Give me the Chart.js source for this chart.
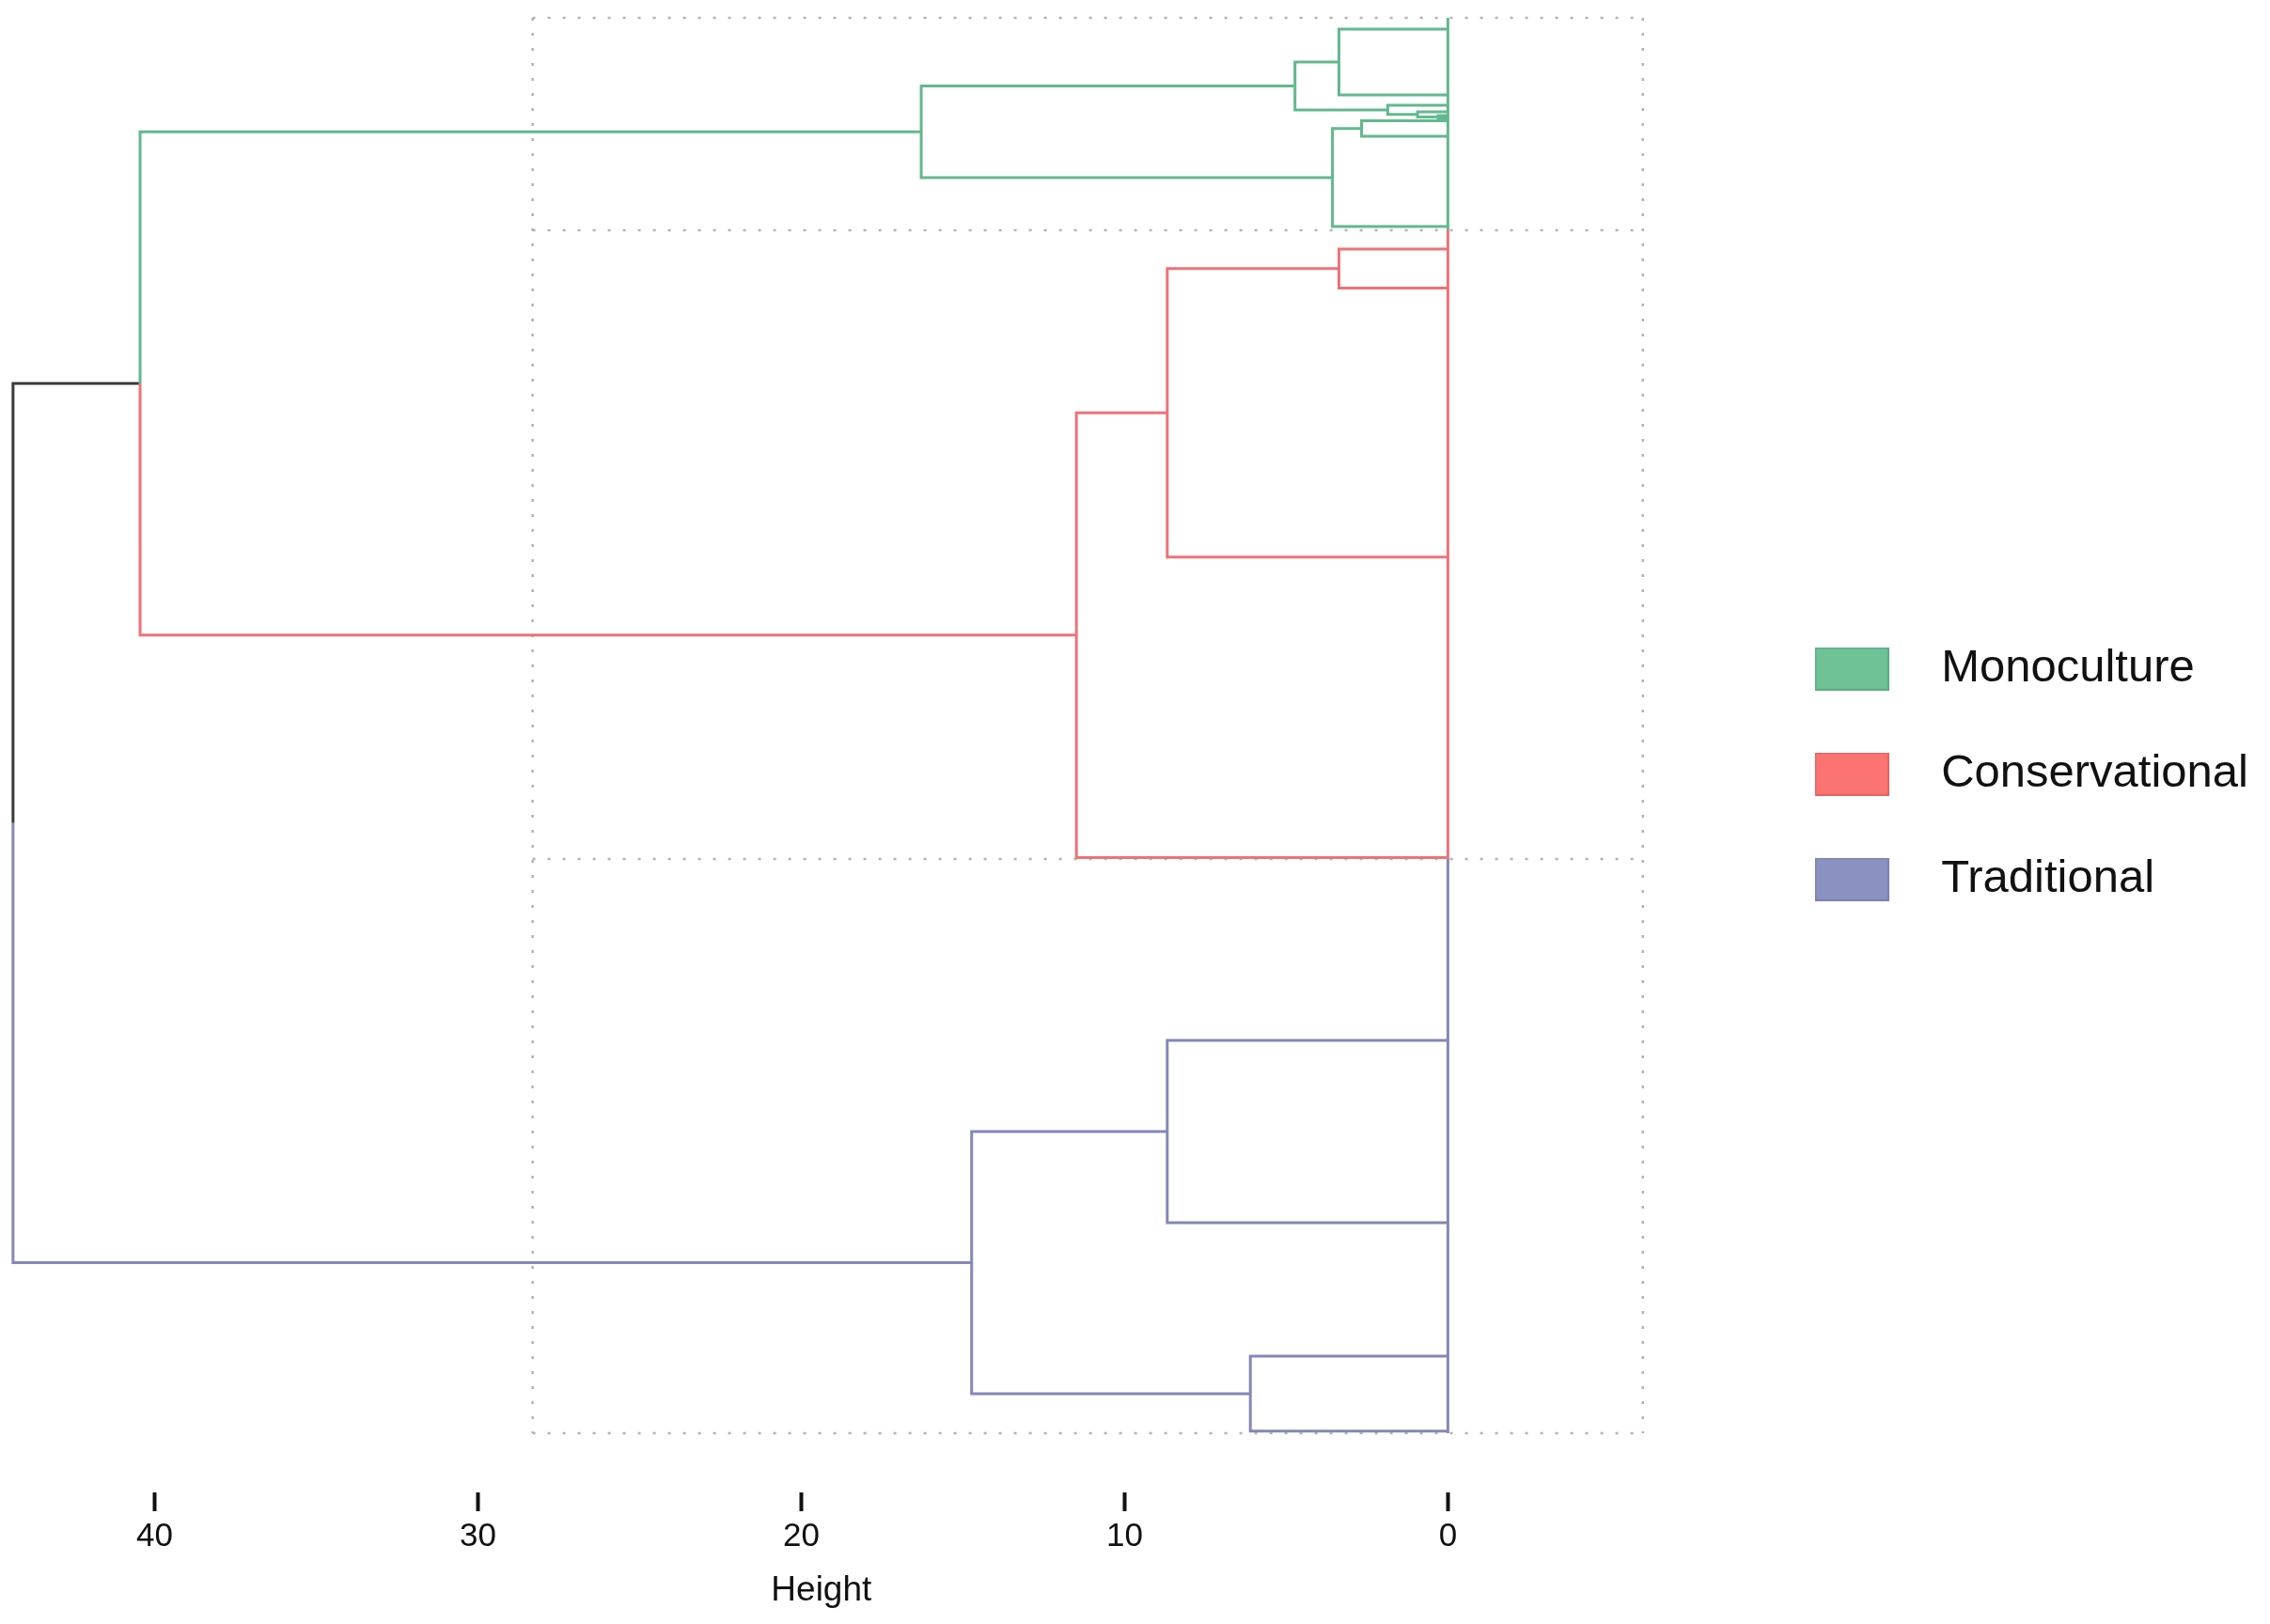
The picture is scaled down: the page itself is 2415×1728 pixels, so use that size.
<!DOCTYPE html>
<html>
<head>
<meta charset="utf-8">
<script src="https://cdn.jsdelivr.net/npm/chart.js@4.4.1/dist/chart.umd.min.js"></script>
<style>
html, body { margin: 0; padding: 0; background: #ffffff; }
#wrap { width: 2415px; height: 1728px; position: relative; }
</style>
</head>
<body>
<div id="wrap"><canvas id="c"></canvas></div>
<script>
// ---- data ----
const clusterNames = ['Monoculture', 'Conservational', 'Traditional'];
// vertical position of each leaf (0 = top of the cluster boxes, 100 = bottom)
const leafPosition = [0.80, 5.44, 6.18, 6.64, 6.91, 7.10, 7.27, 8.37, 14.74,
                      16.33, 19.09, 38.09, 59.33,
                      72.24, 85.13, 94.56, 99.85];
const leafCluster = [0, 0, 0, 0, 0, 0, 0, 0, 0, 1, 1, 1, 1, 2, 2, 2, 2];
// hclust-style merges: negative = leaf (1-based), positive = earlier merge (1-based)
const mergeLeft   = [-5, -4, -3, -7, -1, -10, 4, 5, -16, 6, -14, 10, 11, 8, 14, 15];
const mergeRight  = [-6, 1, 2, -8, -2, -11, -9, 3, -17, -12, -15, -13, 9, 7, 12, 13];
const mergeHeight = [0.3, 0.94, 1.86, 2.67, 3.37, 3.37, 3.57, 4.73, 6.11, 8.68, 8.68, 11.49, 14.73, 16.29, 40.45, 44.38];
const xTicks = [0, 10, 20, 30, 40];
const boxEdges = [0, 15.01, 59.43, 100];      // cluster rectangle edges (positions)
const boxHeightSpan = [28.31, -6.03];         // cluster rectangle extent (heights)

// ---- styles ----
const lineColors = ['#63b88d', '#ee7277', '#8388b8'];
const mixedColor = '#3a3a3a';
const legendColors = ['#6ec296', '#fb7471', '#8b91c1'];
const legendBorders = ['#5aa97f', '#e06262', '#7880ad'];

Chart.defaults.font.family = "'Liberation Sans', Arial, Helvetica, sans-serif";
Chart.defaults.color = '#111111';

// ---- build dendrogram segments through the tree ----
const segs = [[], [], [], []]; // green, red, purple, mixed
const nodes = [];
function info(ref) {
  if (ref < 0) {
    const i = -ref - 1;
    return { h: 0, y: leafPosition[i], c: leafCluster[i] };
  }
  return nodes[ref - 1];
}
function colorIndex(c) { return c < 0 ? 3 : c; }
for (let m = 0; m < mergeHeight.length; m++) {
  const a = info(mergeLeft[m]);
  const b = info(mergeRight[m]);
  const h = mergeHeight[m];
  const y = (a.y + b.y) / 2;
  const c = (a.c === b.c) ? a.c : -1;
  nodes.push({ h: h, y: y, c: c });
  [a, b].forEach(ch => {
    const s = segs[colorIndex(ch.c)];
    s.push({ x: ch.h, y: ch.y }, { x: h, y: ch.y }, { x: h, y: y }, { x: h, y: null });
  });
}
// leaf baseline at height 0, per cluster
for (let k = 0; k < clusterNames.length; k++) {
  segs[k].push({ x: 0, y: boxEdges[k] }, { x: 0, y: boxEdges[k + 1] }, { x: 0, y: null });
}
// dotted cluster rectangles
const boxPts = [];
boxEdges.forEach(e => {
  boxPts.push({ x: boxHeightSpan[0], y: e }, { x: boxHeightSpan[1], y: e }, { x: 0, y: null });
});
boxHeightSpan.forEach(hv => {
  boxPts.push({ x: hv, y: boxEdges[0] }, { x: hv, y: boxEdges[boxEdges.length - 1] }, { x: hv, y: null });
});

function lineDs(data, color, extra) {
  return Object.assign({
    type: 'line', data: data, borderColor: color, backgroundColor: color,
    borderWidth: 3, pointRadius: 0, pointHoverRadius: 0, fill: false, tension: 0,
    spanGaps: false, clip: false, borderCapStyle: 'butt', borderJoinStyle: 'miter'
  }, extra || {});
}
const datasets = [
  lineDs(segs[0], lineColors[0]),
  lineDs(segs[1], lineColors[1]),
  lineDs(segs[2], lineColors[2]),
  lineDs(segs[3], mixedColor),
  lineDs(boxPts, '#b3b3b3', { borderWidth: 2.5, borderDash: [3, 13], order: 10 })
];

// legend swatches
function swatch(fill, stroke) {
  const cv = document.createElement('canvas');
  cv.width = 79; cv.height = 46;
  const g = cv.getContext('2d');
  g.fillStyle = fill; g.fillRect(0, 0, 79, 46);
  g.strokeStyle = stroke; g.lineWidth = 1.5; g.strokeRect(0.75, 0.75, 77.5, 44.5);
  return cv;
}
const swatches = legendColors.map((c, i) => swatch(c, legendBorders[i]));

new Chart(document.getElementById('c'), {
  type: 'line',
  data: { datasets: datasets },
  options: {
    responsive: true,
    maintainAspectRatio: false,
    animation: false,
    events: [],
    layout: { padding: { left: 0, top: 0, bottom: 0, right: 13 } },
    scales: {
      x: {
        type: 'linear', reverse: true, min: -6.026, max: 44.783,
        afterBuildTicks: s => { s.ticks = xTicks.map(v => ({ value: v })); },
        grid: { display: true, drawOnChartArea: false, drawTicks: true, tickLength: 20, tickWidth: 4, tickColor: '#111111', color: '#111111' },
        border: { display: false },
        ticks: { padding: 6.5, color: '#111111', font: { size: 35 }, maxRotation: 0, autoSkip: false },
        title: { display: true, text: 'Height', color: '#111111', font: { size: 37 }, padding: { top: 7.8, bottom: 12.8 } }
      },
      y: {
        type: 'linear', position: 'right', reverse: true, min: -1.262, max: 104.18,
        grid: { display: false }, border: { display: false },
        ticks: { display: false },
        afterFit: s => { s.width = 89; }
      }
    },
    plugins: {
      tooltip: { enabled: false },
      legend: {
        display: true, position: 'right', align: 'start',
        title: { display: true, text: '', padding: { top: 612, bottom: 0 }, font: { size: 10, lineHeight: 1.2 } },
        labels: {
          usePointStyle: true, pointStyleWidth: 141, padding: 63,
          color: '#111111', font: { size: 49 },
          generateLabels: () => clusterNames.map((n, i) => ({
            text: n, fillStyle: legendColors[i], strokeStyle: legendBorders[i], lineWidth: 0,
            pointStyle: swatches[i], hidden: false, fontColor: '#111111'
          }))
        }
      }
    }
  }
});
</script>
</body>
</html>
